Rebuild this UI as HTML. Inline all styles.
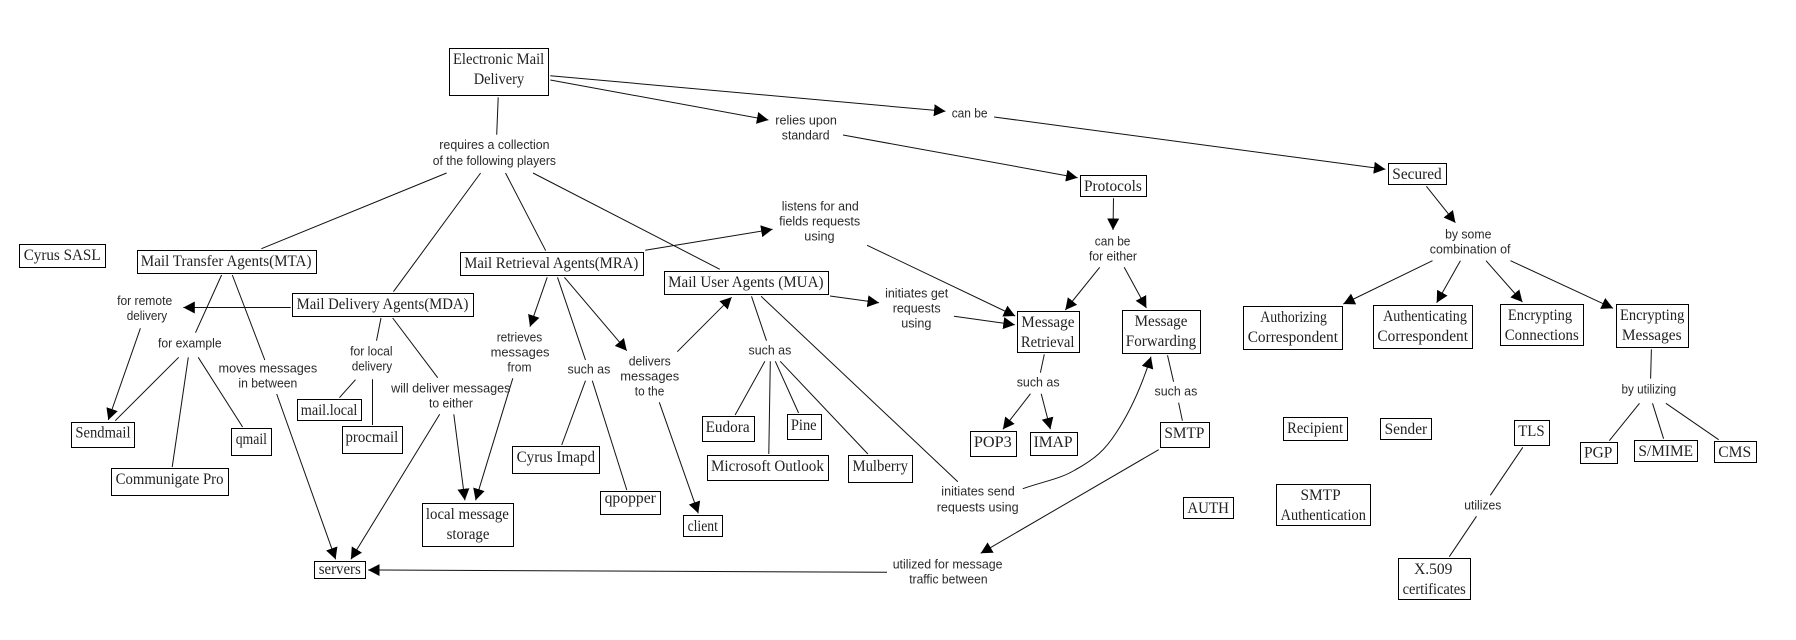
<!DOCTYPE html>
<html><head><meta charset="utf-8"><title>Electronic Mail Delivery</title>
<style>
html,body{margin:0;padding:0;background:#fff;width:1796px;height:640px;overflow:hidden}
svg{display:block}
.b rect{fill:#fff;stroke:#000;stroke-width:1}
.l line,.l path{stroke:#111;stroke-width:1;fill:none}
.n text{font-family:"Liberation Serif",serif;font-size:16px;fill:#222}
.t text{font-family:"Liberation Sans",sans-serif;font-size:13px;fill:#2a2a2a}
</style></head><body>
<svg width="1796" height="640" viewBox="0 0 1796 640" xmlns="http://www.w3.org/2000/svg">
<defs><marker id="a" markerUnits="userSpaceOnUse" markerWidth="14" markerHeight="14" refX="11.5" refY="6.5" orient="auto"><path d="M0 0.5L11.5 6.5L0 12.5Z" fill="#000"/></marker></defs>
<rect width="1796" height="640" fill="#fff"/>
<g class="l">
<line x1="498.2" y1="97.3" x2="496.7" y2="134.7"/>
<line x1="446.6" y1="173" x2="261.4" y2="248.7"/>
<line x1="480.6" y1="173" x2="393.4" y2="291.7"/>
<line x1="505.5" y1="173" x2="545.7" y2="250.7"/>
<line x1="533" y1="173" x2="719.8" y2="269.3"/>
<line x1="221.6" y1="275" x2="195.5" y2="332.7"/>
<line x1="232.3" y1="275" x2="264.8" y2="360"/>
<line x1="178.7" y1="357.3" x2="115.2" y2="420.7"/>
<line x1="188.3" y1="357.3" x2="172.2" y2="467"/>
<line x1="198.2" y1="357.3" x2="242.6" y2="427"/>
<line x1="381" y1="318" x2="376.5" y2="340.7"/>
<line x1="355.5" y1="379.7" x2="339.4" y2="397.7"/>
<line x1="372.5" y1="379.3" x2="372.5" y2="425"/>
<line x1="392.7" y1="318" x2="437.7" y2="377.7"/>
<line x1="557.5" y1="277.3" x2="585.5" y2="360"/>
<line x1="585.5" y1="380.7" x2="561.7" y2="445"/>
<line x1="592.3" y1="380.7" x2="626.8" y2="490"/>
<line x1="751.5" y1="296.3" x2="766.5" y2="340.7"/>
<line x1="761.1" y1="296.3" x2="957.8" y2="481.7"/>
<line x1="764.9" y1="361.3" x2="735.1" y2="415"/>
<line x1="770.3" y1="361.3" x2="768.8" y2="454"/>
<line x1="775.3" y1="361.3" x2="798.6" y2="413"/>
<line x1="780.2" y1="361.3" x2="867.9" y2="454"/>
<line x1="1044.3" y1="354.3" x2="1040.4" y2="372.7"/>
<line x1="1167.5" y1="355.3" x2="1173.6" y2="381.7"/>
<line x1="1178.6" y1="402.7" x2="1182.4" y2="420.7"/>
<line x1="1651.4" y1="349.3" x2="1650.6" y2="378.7"/>
<line x1="1639.5" y1="403.3" x2="1609.3" y2="440.7"/>
<line x1="1652.5" y1="403.3" x2="1663.6" y2="438.7"/>
<line x1="1665.9" y1="403.3" x2="1718.7" y2="439.7"/>
<line x1="1522.8" y1="447.3" x2="1490.3" y2="495.3"/>
<line x1="1476.5" y1="516.3" x2="1449.3" y2="556.7"/>
</g>
<g class="l">
<line marker-end="url(#a)" x1="550.3" y1="80" x2="768.4" y2="120"/>
<line marker-end="url(#a)" x1="550.3" y1="75.7" x2="945.5" y2="111.3"/>
<line marker-end="url(#a)" x1="994.1" y1="117" x2="1385.4" y2="169.3"/>
<line marker-end="url(#a)" x1="843" y1="135" x2="1077.6" y2="177.7"/>
<line marker-end="url(#a)" x1="276.7" y1="394" x2="335.6" y2="559.3"/>
<line marker-end="url(#a)" x1="290.8" y1="307.5" x2="183.3" y2="307.5"/>
<line marker-end="url(#a)" x1="140.4" y1="328.3" x2="108.3" y2="420"/>
<line marker-end="url(#a)" x1="439.7" y1="414.3" x2="350.9" y2="559.3"/>
<line marker-end="url(#a)" x1="453.8" y1="414.3" x2="464.9" y2="500.3"/>
<line marker-end="url(#a)" x1="512.8" y1="378.3" x2="475.6" y2="500.3"/>
<line marker-end="url(#a)" x1="547.2" y1="277.3" x2="530" y2="326.7"/>
<line marker-end="url(#a)" x1="564.4" y1="277.3" x2="626.8" y2="350.7"/>
<line marker-end="url(#a)" x1="659.3" y1="402.3" x2="698.3" y2="513.3"/>
<line marker-end="url(#a)" x1="677.3" y1="351.7" x2="731.6" y2="297.3"/>
<line marker-end="url(#a)" x1="645.2" y1="250.3" x2="772.6" y2="229.3"/>
<line marker-end="url(#a)" x1="867.1" y1="245.3" x2="1015.2" y2="316"/>
<line marker-end="url(#a)" x1="830" y1="296" x2="879" y2="302.7"/>
<line marker-end="url(#a)" x1="954" y1="316.3" x2="1014.8" y2="324.7"/>
<path marker-end="url(#a)" d="M1022.8 488.7C1045 481 1060 479 1075 470C1095 459 1105 450 1116 433C1130 412 1142 385 1151 356.7"/>
<line marker-end="url(#a)" x1="1113.5" y1="198.3" x2="1113" y2="230"/>
<line marker-end="url(#a)" x1="1099.7" y1="267.3" x2="1065.3" y2="310"/>
<line marker-end="url(#a)" x1="1124.2" y1="267.3" x2="1146.4" y2="308"/>
<line marker-end="url(#a)" x1="1030.5" y1="393.7" x2="1002.9" y2="429.3"/>
<line marker-end="url(#a)" x1="1041.2" y1="393.7" x2="1050.4" y2="429.3"/>
<line marker-end="url(#a)" x1="1158.7" y1="449.7" x2="980.7" y2="553.3"/>
<line marker-end="url(#a)" x1="887" y1="572.3" x2="368.1" y2="570"/>
<line marker-end="url(#a)" x1="1426.4" y1="186.3" x2="1455.4" y2="222.7"/>
<line marker-end="url(#a)" x1="1432.5" y1="260.7" x2="1343.3" y2="304"/>
<line marker-end="url(#a)" x1="1460.4" y1="260.7" x2="1436.7" y2="302.7"/>
<line marker-end="url(#a)" x1="1486" y1="260.7" x2="1522.4" y2="302"/>
<line marker-end="url(#a)" x1="1510.5" y1="260.7" x2="1613.1" y2="308.3"/>
</g>
<g class="b">
<rect x="449.5" y="48.5" width="99" height="47"/>
<rect x="19.5" y="244.5" width="86" height="23"/>
<rect x="137.5" y="250.5" width="179" height="23"/>
<rect x="460.5" y="252.5" width="183" height="23"/>
<rect x="292.5" y="293.5" width="181" height="23"/>
<rect x="71.5" y="422.5" width="63" height="25"/>
<rect x="111.5" y="468.5" width="117" height="27"/>
<rect x="231.5" y="428.5" width="40" height="27"/>
<rect x="297.5" y="399.5" width="64" height="21"/>
<rect x="342.5" y="426.5" width="60" height="27"/>
<rect x="512.5" y="446.5" width="87" height="27"/>
<rect x="422.5" y="503.5" width="91" height="43"/>
<rect x="314.5" y="561.5" width="51" height="17"/>
<rect x="664.5" y="271.5" width="164" height="23"/>
<rect x="1080.5" y="175.5" width="66" height="21"/>
<rect x="1017.5" y="311.5" width="62" height="41"/>
<rect x="1122.5" y="310.5" width="78" height="43"/>
<rect x="702.5" y="416.5" width="52" height="25"/>
<rect x="787.5" y="414.5" width="34" height="25"/>
<rect x="707.5" y="455.5" width="121" height="25"/>
<rect x="848.5" y="455.5" width="64" height="27"/>
<rect x="600.5" y="491.5" width="60" height="23"/>
<rect x="683.5" y="515.5" width="39" height="21"/>
<rect x="970.5" y="431.5" width="46" height="25"/>
<rect x="1030.5" y="432.5" width="47" height="23"/>
<rect x="1160.5" y="422.5" width="49" height="25"/>
<rect x="1183.5" y="497.5" width="50" height="21"/>
<rect x="1388.5" y="163.5" width="58" height="21"/>
<rect x="1243.5" y="306.5" width="99" height="43"/>
<rect x="1373.5" y="305.5" width="99" height="43"/>
<rect x="1500.5" y="304.5" width="83" height="41"/>
<rect x="1616.5" y="304.5" width="72" height="43"/>
<rect x="1283.5" y="417.5" width="64" height="23"/>
<rect x="1380.5" y="418.5" width="51" height="21"/>
<rect x="1514.5" y="420.5" width="35" height="25"/>
<rect x="1580.5" y="442.5" width="37" height="21"/>
<rect x="1634.5" y="440.5" width="63" height="21"/>
<rect x="1714.5" y="441.5" width="42" height="21"/>
<rect x="1276.5" y="484.5" width="94" height="41"/>
<rect x="1398.5" y="558.5" width="72" height="41"/>
</g>
<g class="n">
<text lengthAdjust="spacingAndGlyphs" x="453" y="64" textLength="91.2">Electronic Mail</text>
<text lengthAdjust="spacingAndGlyphs" x="473.7" y="84" textLength="50.5">Delivery</text>
<text lengthAdjust="spacingAndGlyphs" x="23.7" y="260" textLength="76.9">Cyrus SASL</text>
<text lengthAdjust="spacingAndGlyphs" x="140.8" y="266" textLength="170.7">Mail Transfer Agents(MTA)</text>
<text lengthAdjust="spacingAndGlyphs" x="464.2" y="268" textLength="174.1">Mail Retrieval Agents(MRA)</text>
<text lengthAdjust="spacingAndGlyphs" x="296.6" y="309" textLength="171.8">Mail Delivery Agents(MDA)</text>
<text lengthAdjust="spacingAndGlyphs" x="75.4" y="437.7" textLength="55.1">Sendmail</text>
<text lengthAdjust="spacingAndGlyphs" x="115.6" y="484" textLength="107.9">Communigate Pro</text>
<text lengthAdjust="spacingAndGlyphs" x="235.7" y="444" textLength="31.3">qmail</text>
<text lengthAdjust="spacingAndGlyphs" x="300.8" y="415" textLength="56.6">mail.local</text>
<text lengthAdjust="spacingAndGlyphs" x="345.5" y="442" textLength="52.8">procmail</text>
<text lengthAdjust="spacingAndGlyphs" x="516.6" y="462" textLength="78.4">Cyrus Imapd</text>
<text lengthAdjust="spacingAndGlyphs" x="425.9" y="519" textLength="83">local message</text>
<text lengthAdjust="spacingAndGlyphs" x="446.6" y="539" textLength="42.8">storage</text>
<text lengthAdjust="spacingAndGlyphs" x="318.7" y="574" textLength="42.1">servers</text>
<text lengthAdjust="spacingAndGlyphs" x="668.1" y="287" textLength="155.4">Mail User Agents (MUA)</text>
<text lengthAdjust="spacingAndGlyphs" x="1084" y="191" textLength="57.8">Protocols</text>
<text lengthAdjust="spacingAndGlyphs" x="1021.3" y="327" textLength="53.2">Message</text>
<text lengthAdjust="spacingAndGlyphs" x="1020.9" y="347" textLength="53.6">Retrieval</text>
<text lengthAdjust="spacingAndGlyphs" x="1134.6" y="326" textLength="52.8">Message</text>
<text lengthAdjust="spacingAndGlyphs" x="1125.8" y="346" textLength="70.4">Forwarding</text>
<text lengthAdjust="spacingAndGlyphs" x="705.6" y="432" textLength="44">Eudora</text>
<text lengthAdjust="spacingAndGlyphs" x="790.9" y="430" textLength="25.7">Pine</text>
<text lengthAdjust="spacingAndGlyphs" x="711" y="471" textLength="112.9">Microsoft Outlook</text>
<text lengthAdjust="spacingAndGlyphs" x="852.5" y="471" textLength="55.5">Mulberry</text>
<text lengthAdjust="spacingAndGlyphs" x="604.6" y="503" textLength="51.3">qpopper</text>
<text lengthAdjust="spacingAndGlyphs" x="687.6" y="531" textLength="30.3">client</text>
<text lengthAdjust="spacingAndGlyphs" x="973.9" y="447" textLength="37.8">POP3</text>
<text lengthAdjust="spacingAndGlyphs" x="1033.6" y="447" textLength="39">IMAP</text>
<text lengthAdjust="spacingAndGlyphs" x="1164.4" y="438" textLength="40">SMTP</text>
<text lengthAdjust="spacingAndGlyphs" x="1187.4" y="513" textLength="41.5">AUTH</text>
<text lengthAdjust="spacingAndGlyphs" x="1392.3" y="179" textLength="49.4">Secured</text>
<text lengthAdjust="spacingAndGlyphs" x="1260.3" y="322" textLength="66.6">Authorizing</text>
<text lengthAdjust="spacingAndGlyphs" x="1247.7" y="342" textLength="90.3">Correspondent</text>
<text lengthAdjust="spacingAndGlyphs" x="1383.1" y="321" textLength="83.8">Authenticating</text>
<text lengthAdjust="spacingAndGlyphs" x="1377.4" y="341" textLength="90.6">Correspondent</text>
<text lengthAdjust="spacingAndGlyphs" x="1507.9" y="320" textLength="64.2">Encrypting</text>
<text lengthAdjust="spacingAndGlyphs" x="1504.8" y="340" textLength="73.9">Connections</text>
<text lengthAdjust="spacingAndGlyphs" x="1620" y="320" textLength="64.3">Encrypting</text>
<text lengthAdjust="spacingAndGlyphs" x="1621.9" y="340" textLength="59.7">Messages</text>
<text lengthAdjust="spacingAndGlyphs" x="1287.1" y="433" textLength="55.9">Recipient</text>
<text lengthAdjust="spacingAndGlyphs" x="1384.6" y="434" textLength="42.5">Sender</text>
<text lengthAdjust="spacingAndGlyphs" x="1518.2" y="436" textLength="26.4">TLS</text>
<text lengthAdjust="spacingAndGlyphs" x="1584" y="457.7" textLength="28.3">PGP</text>
<text lengthAdjust="spacingAndGlyphs" x="1638.4" y="456" textLength="54.6">S/MIME</text>
<text lengthAdjust="spacingAndGlyphs" x="1718.3" y="457" textLength="32.9">CMS</text>
<text lengthAdjust="spacingAndGlyphs" x="1300.5" y="500" textLength="40.1">SMTP</text>
<text lengthAdjust="spacingAndGlyphs" x="1280.6" y="520" textLength="85.3">Authentication</text>
<text lengthAdjust="spacingAndGlyphs" x="1414.1" y="574" textLength="38.3">X.509</text>
<text lengthAdjust="spacingAndGlyphs" x="1402.6" y="594" textLength="63.2">certificates</text>
</g>
<g class="t">
<text lengthAdjust="spacingAndGlyphs" x="439.3" y="149" textLength="110.2">requires a collection</text>
<text lengthAdjust="spacingAndGlyphs" x="432.8" y="165" textLength="123.2">of the following players</text>
<text lengthAdjust="spacingAndGlyphs" x="117.1" y="305" textLength="55.1">for remote</text>
<text lengthAdjust="spacingAndGlyphs" x="126.7" y="320" textLength="40.5">delivery</text>
<text lengthAdjust="spacingAndGlyphs" x="158" y="347.3" textLength="63.6">for example</text>
<text lengthAdjust="spacingAndGlyphs" x="218.5" y="372.7" textLength="98.7">moves messages</text>
<text lengthAdjust="spacingAndGlyphs" x="238.4" y="387.7" textLength="58.9">in between</text>
<text lengthAdjust="spacingAndGlyphs" x="350.1" y="355.7" textLength="42.5">for local</text>
<text lengthAdjust="spacingAndGlyphs" x="351.7" y="370.7" textLength="40.5">delivery</text>
<text lengthAdjust="spacingAndGlyphs" x="391.1" y="392.7" textLength="119.4">will deliver messages</text>
<text lengthAdjust="spacingAndGlyphs" x="429" y="407.7" textLength="44">to either</text>
<text lengthAdjust="spacingAndGlyphs" x="496.7" y="341.7" textLength="45.5">retrieves</text>
<text lengthAdjust="spacingAndGlyphs" x="490.6" y="356.7" textLength="58.9">messages</text>
<text lengthAdjust="spacingAndGlyphs" x="507.4" y="371.7" textLength="24.1">from</text>
<text lengthAdjust="spacingAndGlyphs" x="567.5" y="373.7" textLength="42.8">such as</text>
<text lengthAdjust="spacingAndGlyphs" x="628.7" y="365.7" textLength="42.1">delivers</text>
<text lengthAdjust="spacingAndGlyphs" x="620.3" y="380.7" textLength="58.9">messages</text>
<text lengthAdjust="spacingAndGlyphs" x="634.8" y="395.7" textLength="29.5">to the</text>
<text lengthAdjust="spacingAndGlyphs" x="748.5" y="354.7" textLength="42.8">such as</text>
<text lengthAdjust="spacingAndGlyphs" x="775.3" y="124.7" textLength="61.6">relies upon</text>
<text lengthAdjust="spacingAndGlyphs" x="781.8" y="139.7" textLength="47.8">standard</text>
<text lengthAdjust="spacingAndGlyphs" x="951.7" y="117.7" textLength="35.9">can be</text>
<text lengthAdjust="spacingAndGlyphs" x="781.8" y="210.7" textLength="76.9">listens for and</text>
<text lengthAdjust="spacingAndGlyphs" x="779.1" y="225.7" textLength="81.1">fields requests</text>
<text lengthAdjust="spacingAndGlyphs" x="804.3" y="240.7" textLength="30.3">using</text>
<text lengthAdjust="spacingAndGlyphs" x="885.1" y="297.7" textLength="63.1">initiates get</text>
<text lengthAdjust="spacingAndGlyphs" x="892.7" y="312.7" textLength="47.9">requests</text>
<text lengthAdjust="spacingAndGlyphs" x="901.2" y="327.7" textLength="30.2">using</text>
<text lengthAdjust="spacingAndGlyphs" x="1094.8" y="245.7" textLength="35.6">can be</text>
<text lengthAdjust="spacingAndGlyphs" x="1089" y="260.7" textLength="47.9">for either</text>
<text lengthAdjust="spacingAndGlyphs" x="1016.7" y="386.7" textLength="42.9">such as</text>
<text lengthAdjust="spacingAndGlyphs" x="1154.5" y="395.7" textLength="42.8">such as</text>
<text lengthAdjust="spacingAndGlyphs" x="941.3" y="495.7" textLength="73.5">initiates send</text>
<text lengthAdjust="spacingAndGlyphs" x="936.7" y="511.7" textLength="81.9">requests using</text>
<text lengthAdjust="spacingAndGlyphs" x="892.7" y="568.7" textLength="109.8">utilized for message</text>
<text lengthAdjust="spacingAndGlyphs" x="909.2" y="583.7" textLength="78.4">traffic between</text>
<text lengthAdjust="spacingAndGlyphs" x="1445.1" y="238.7" textLength="46.3">by some</text>
<text lengthAdjust="spacingAndGlyphs" x="1429.8" y="253.7" textLength="80.7">combination of</text>
<text lengthAdjust="spacingAndGlyphs" x="1621.5" y="393.3" textLength="54.7">by utilizing</text>
<text lengthAdjust="spacingAndGlyphs" x="1464.2" y="509.3" textLength="37.2">utilizes</text>
</g>
</svg>
</body></html>
